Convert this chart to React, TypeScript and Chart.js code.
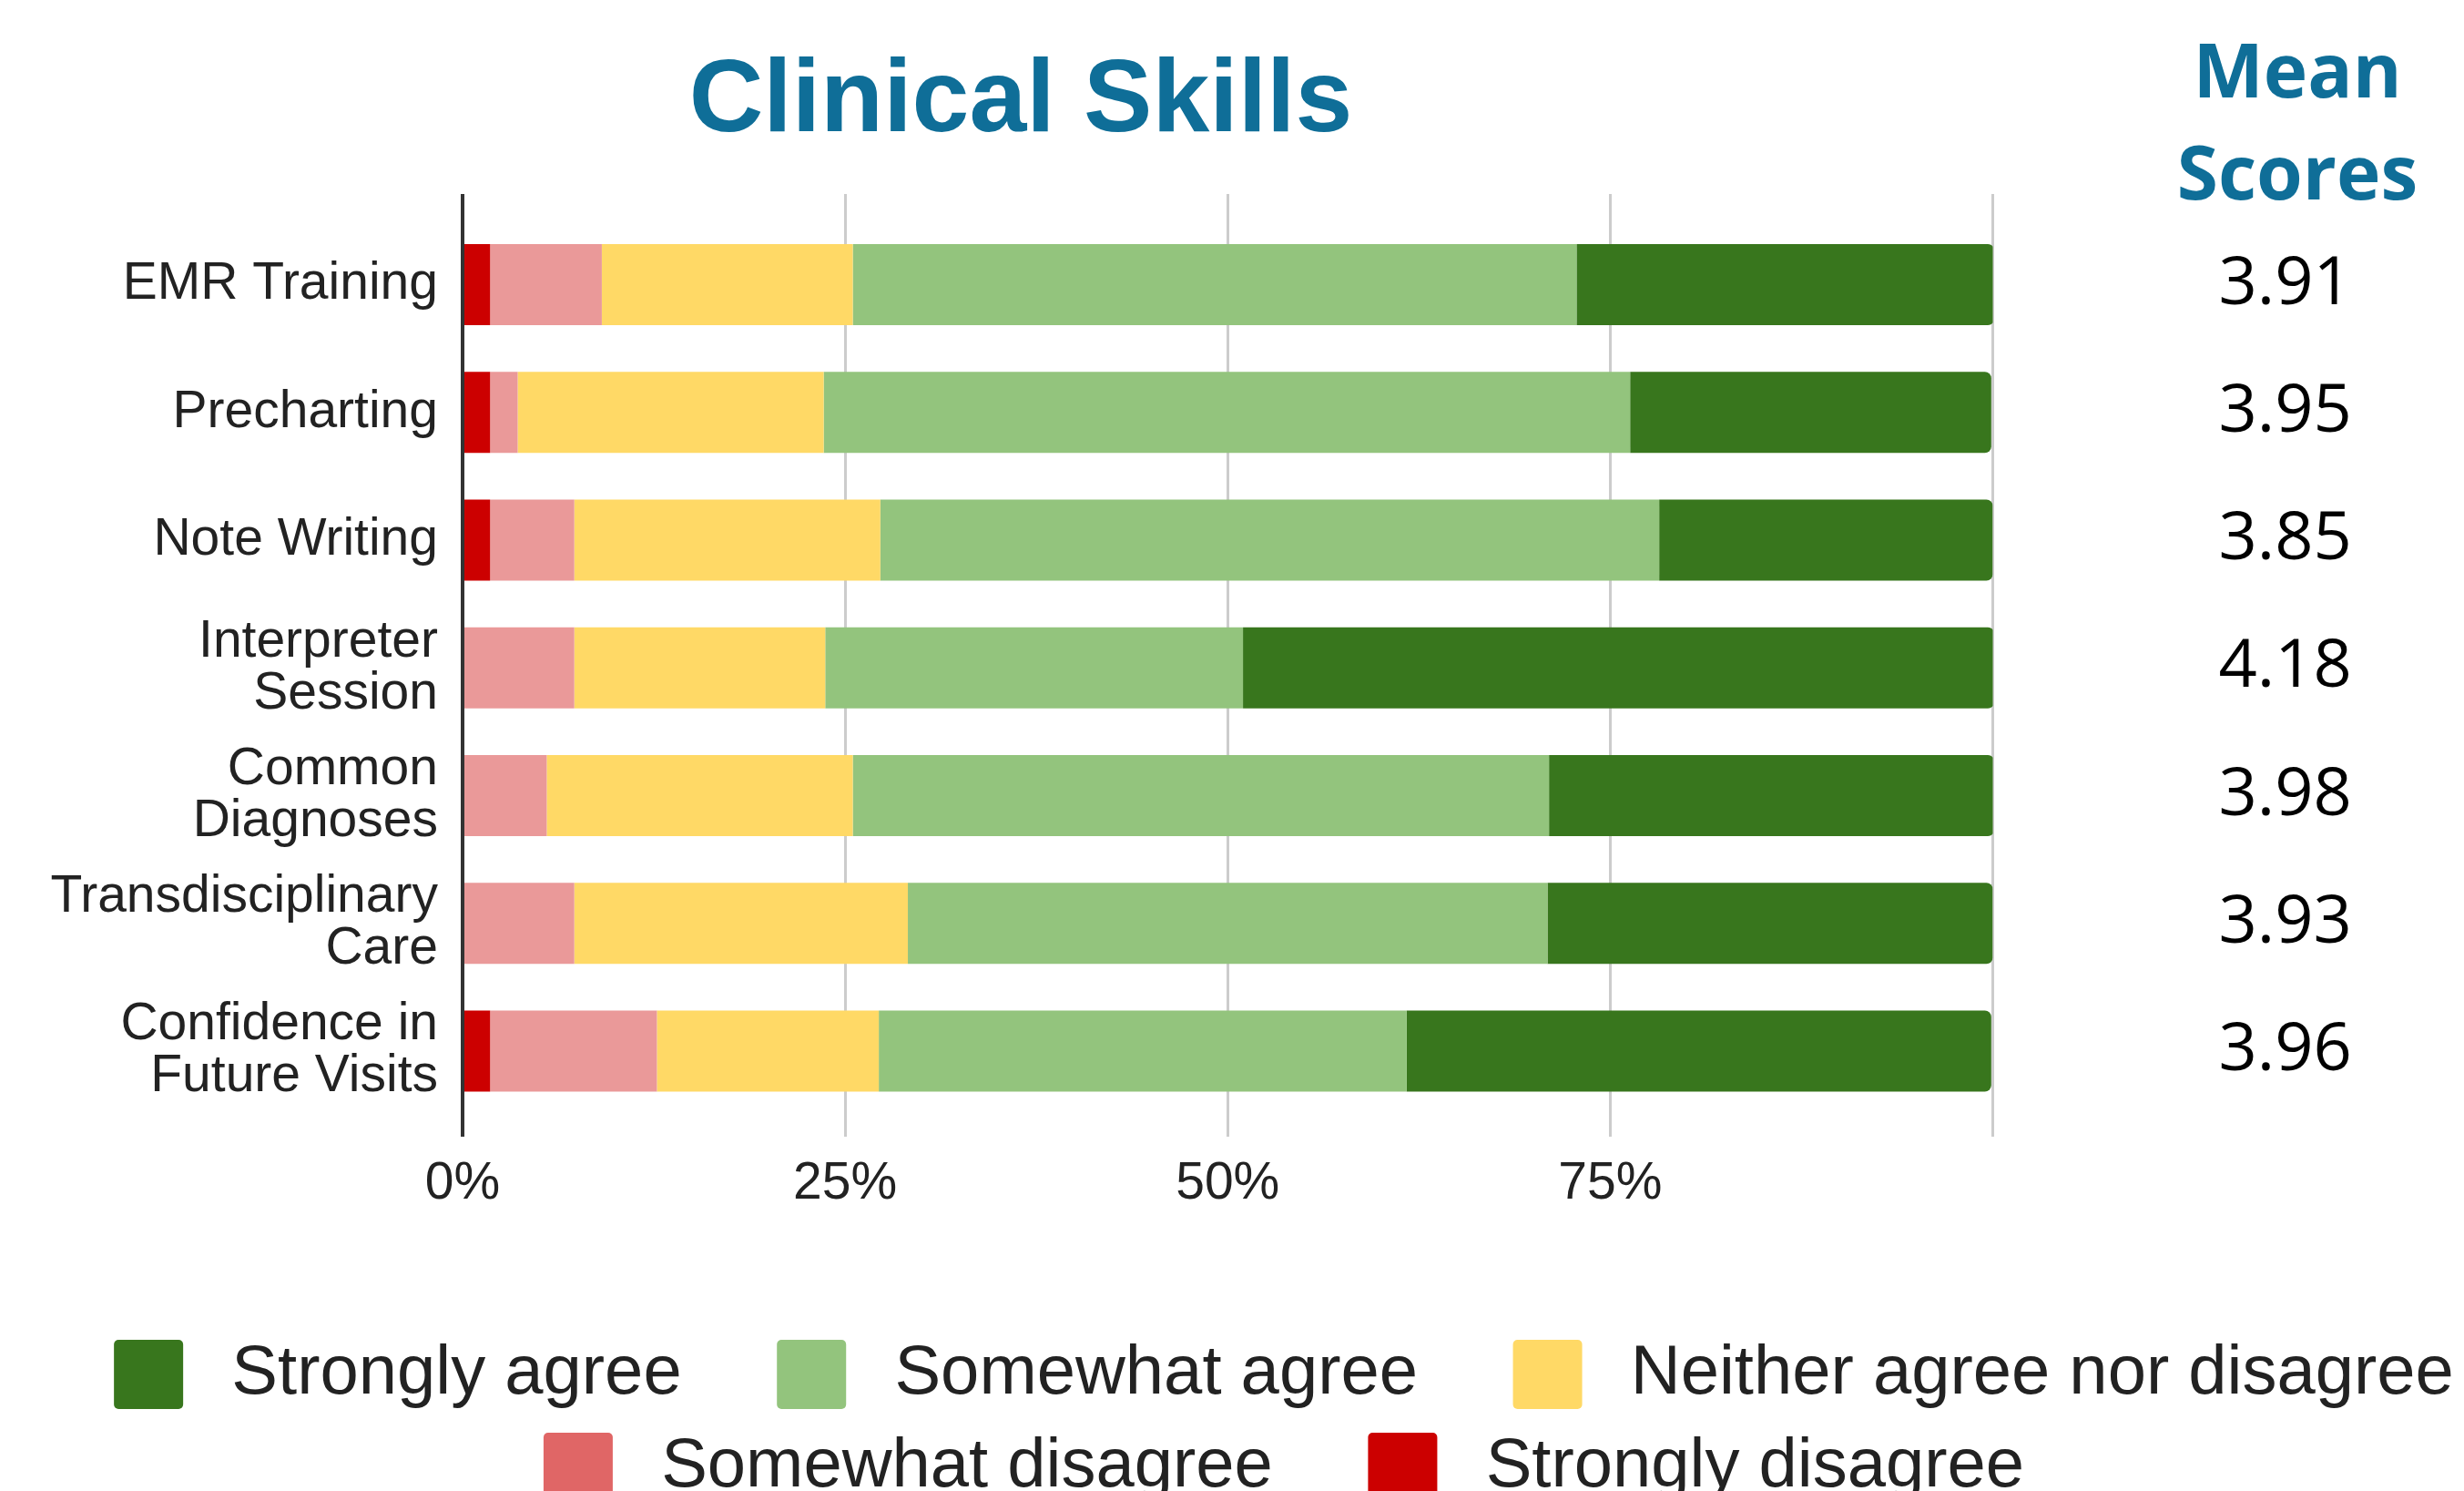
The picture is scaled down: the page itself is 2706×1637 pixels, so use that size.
import React, { useEffect, useRef } from 'react';
import { Chart, registerables } from 'chart.js';

Chart.register(...registerables);

// ---------- data ----------
const categories: (string | string[])[] = [
  'EMR Training',
  'Precharting',
  'Note Writing',
  ['Interpreter', 'Session'],
  ['Common', 'Diagnoses'],
  ['Transdisciplinary', 'Care'],
  ['Confidence in', 'Future Visits'],
];

// percentages per category (left → right in each bar)
const stronglyDisagree = [1.8, 1.8, 1.8, 0, 0, 0, 1.8];
const somewhatDisagree = [7.3, 1.8, 5.5, 7.3, 5.5, 7.3, 10.9];
const neitherAgreeNorDisagree = [16.4, 20.0, 20.0, 16.4, 20.0, 21.8, 14.5];
const somewhatAgree = [47.3, 52.7, 50.9, 27.3, 45.5, 41.8, 34.5];
const stronglyAgree = [27.3, 23.6, 21.8, 49.1, 29.1, 29.1, 38.2];

const meanScores = [3.91, 3.95, 3.85, 4.18, 3.98, 3.93, 3.96];

const xTickValues = [0, 25, 50, 75, 100];
const xTickLabels = ['0%', '25%', '50%', '75%', ''];

const seriesNames = [
  'Strongly disagree',
  'Somewhat disagree',
  'Neither agree nor disagree',
  'Somewhat agree',
  'Strongly agree',
];

const chartTitle = 'Clinical Skills';
const meanHeader = ['Mean', 'Scores'];

// ---------- styles ----------
const barColors = ['#cc0000', '#ea9999', '#ffd966', '#93c47d', '#38761d'];
const legendColors = ['#cc0000', '#e06666', '#ffd966', '#93c47d', '#38761d'];
const headerBlue = '#0f6e98';

const headerPlugin = {
  id: 'headerText',
  afterDraw(chart: any) {
    const ctx = chart.ctx as CanvasRenderingContext2D;
    ctx.save();
    ctx.fillStyle = headerBlue;
    ctx.textAlign = 'center';
    ctx.textBaseline = 'alphabetic';
    ctx.font = 'bold 113px "Liberation Sans", Arial, sans-serif';
    ctx.fillText(chartTitle, 1113, 136);
    ctx.font = 'bold 82px "Open Sans", "Liberation Sans", sans-serif';
    ctx.fillText(meanHeader[0], 2515, 99);
    ctx.fillText(meanHeader[1], 2515, 211);
    ctx.restore();
  },
};

export default function App() {
  const ref = useRef<HTMLCanvasElement>(null);

  useEffect(() => {
    const canvas = ref.current;
    if (!canvas) return;
    Chart.defaults.font.family = '"Liberation Sans", Arial, sans-serif';
    Chart.defaults.color = '#222222';

    const series = [
      stronglyDisagree,
      somewhatDisagree,
      neitherAgreeNorDisagree,
      somewhatAgree,
      stronglyAgree,
    ];

    const rowTicks = (s: any) => {
      s.ticks = categories.map((_, i) => ({ value: i }));
    };

    const chart = new Chart(canvas, {
      type: 'bar',
      data: {
        datasets: series.map((vals, k) => ({
          label: seriesNames[k],
          data: vals.map((x, i) => ({ x, y: i })),
          backgroundColor: barColors[k],
          borderWidth: 0,
          borderRadius: k === series.length - 1 ? 7 : 0,
          borderSkipped: 'start',
          barPercentage: 0.635,
          categoryPercentage: 1,
        })),
      },
      options: {
        indexAxis: 'y',
        responsive: false,
        animation: false,
        layout: { padding: { top: 205, left: 0, right: 0, bottom: 26 } },
        scales: {
          x: {
            type: 'linear',
            min: 0,
            max: 100,
            stacked: true,
            afterBuildTicks: (s: any) => {
              s.ticks = xTickValues.map((v) => ({ value: v }));
            },
            afterFit: (s: any) => {
              s.height = 197;
              s.paddingLeft = 0;
              s.paddingRight = 0;
            },
            grid: {
              color: (c: any) => (c.tick && c.tick.value === 0 ? '#333333' : '#cccccc'),
              lineWidth: (c: any) => (c.tick && c.tick.value === 0 ? 4 : 3),
              drawTicks: false,
            },
            border: { display: false },
            ticks: {
              padding: 18,
              autoSkip: false,
              maxRotation: 0,
              color: '#222222',
              font: { size: 57 },
              callback: (v: any) => {
                const idx = xTickValues.indexOf(Number(v));
                return idx >= 0 ? xTickLabels[idx] : '';
              },
            },
          },
          y: {
            type: 'linear',
            position: 'left',
            reverse: true,
            offset: false,
            min: -0.71,
            max: 6.67,
            stacked: true,
            afterBuildTicks: rowTicks,
            afterFit: (s: any) => {
              s.width = 500;
              s.paddingTop = 0;
              s.paddingBottom = 0;
            },
            grid: { display: false, drawTicks: false, offset: false },
            border: { display: false },
            ticks: {
              padding: 27,
              autoSkip: false,
              color: '#222222',
              font: { size: 57, lineHeight: 1.0 },
              callback: (v: any) => categories[Number(v)] as any,
            },
          },
          y2: {
            type: 'linear',
            position: 'right',
            reverse: true,
            offset: false,
            min: -0.71,
            max: 6.67,
            afterBuildTicks: rowTicks,
            afterFit: (s: any) => {
              s.width = 623.5;
              s.paddingTop = 0;
              s.paddingBottom = 0;
            },
            grid: { display: false, drawTicks: false, offset: false },
            border: { display: false },
            ticks: {
              padding: 248,
              autoSkip: false,
              crossAlign: 'center',
              color: '#000000',
              font: { family: '"Open Sans", "Liberation Sans", sans-serif', size: 74 },
              callback: (v: any) => meanScores[Number(v)].toFixed(2),
            },
          },
        },
        plugins: {
          tooltip: { enabled: false },
          title: { display: false },
          legend: {
            position: 'bottom',
            labels: {
              boxWidth: 76,
              boxHeight: 76,
              padding: 26,
              useBorderRadius: true,
              borderRadius: 5,
              color: '#222222',
              font: { size: 76 },
              generateLabels: (c: any) => {
                const items = (Chart.defaults.plugins.legend.labels as any)
                  .generateLabels(c)
                  .reverse();
                return items.map((it: any, i: number) => ({
                  ...it,
                  fillStyle: legendColors[it.datasetIndex],
                  text:
                    '\u2009' + it.text + (i === 2 || i === items.length - 1 ? '' : '   \u2009'),
                }));
              },
            },
          },
        },
      } as any,
      plugins: [headerPlugin],
    });

    return () => chart.destroy();
  }, []);

  return (
    <div style={{ position: 'fixed', left: 8, top: 8, width: 2804, height: 1677 }}>
      <canvas ref={ref} width={2804} height={1677} style={{ display: 'block' }} />
    </div>
  );
}
